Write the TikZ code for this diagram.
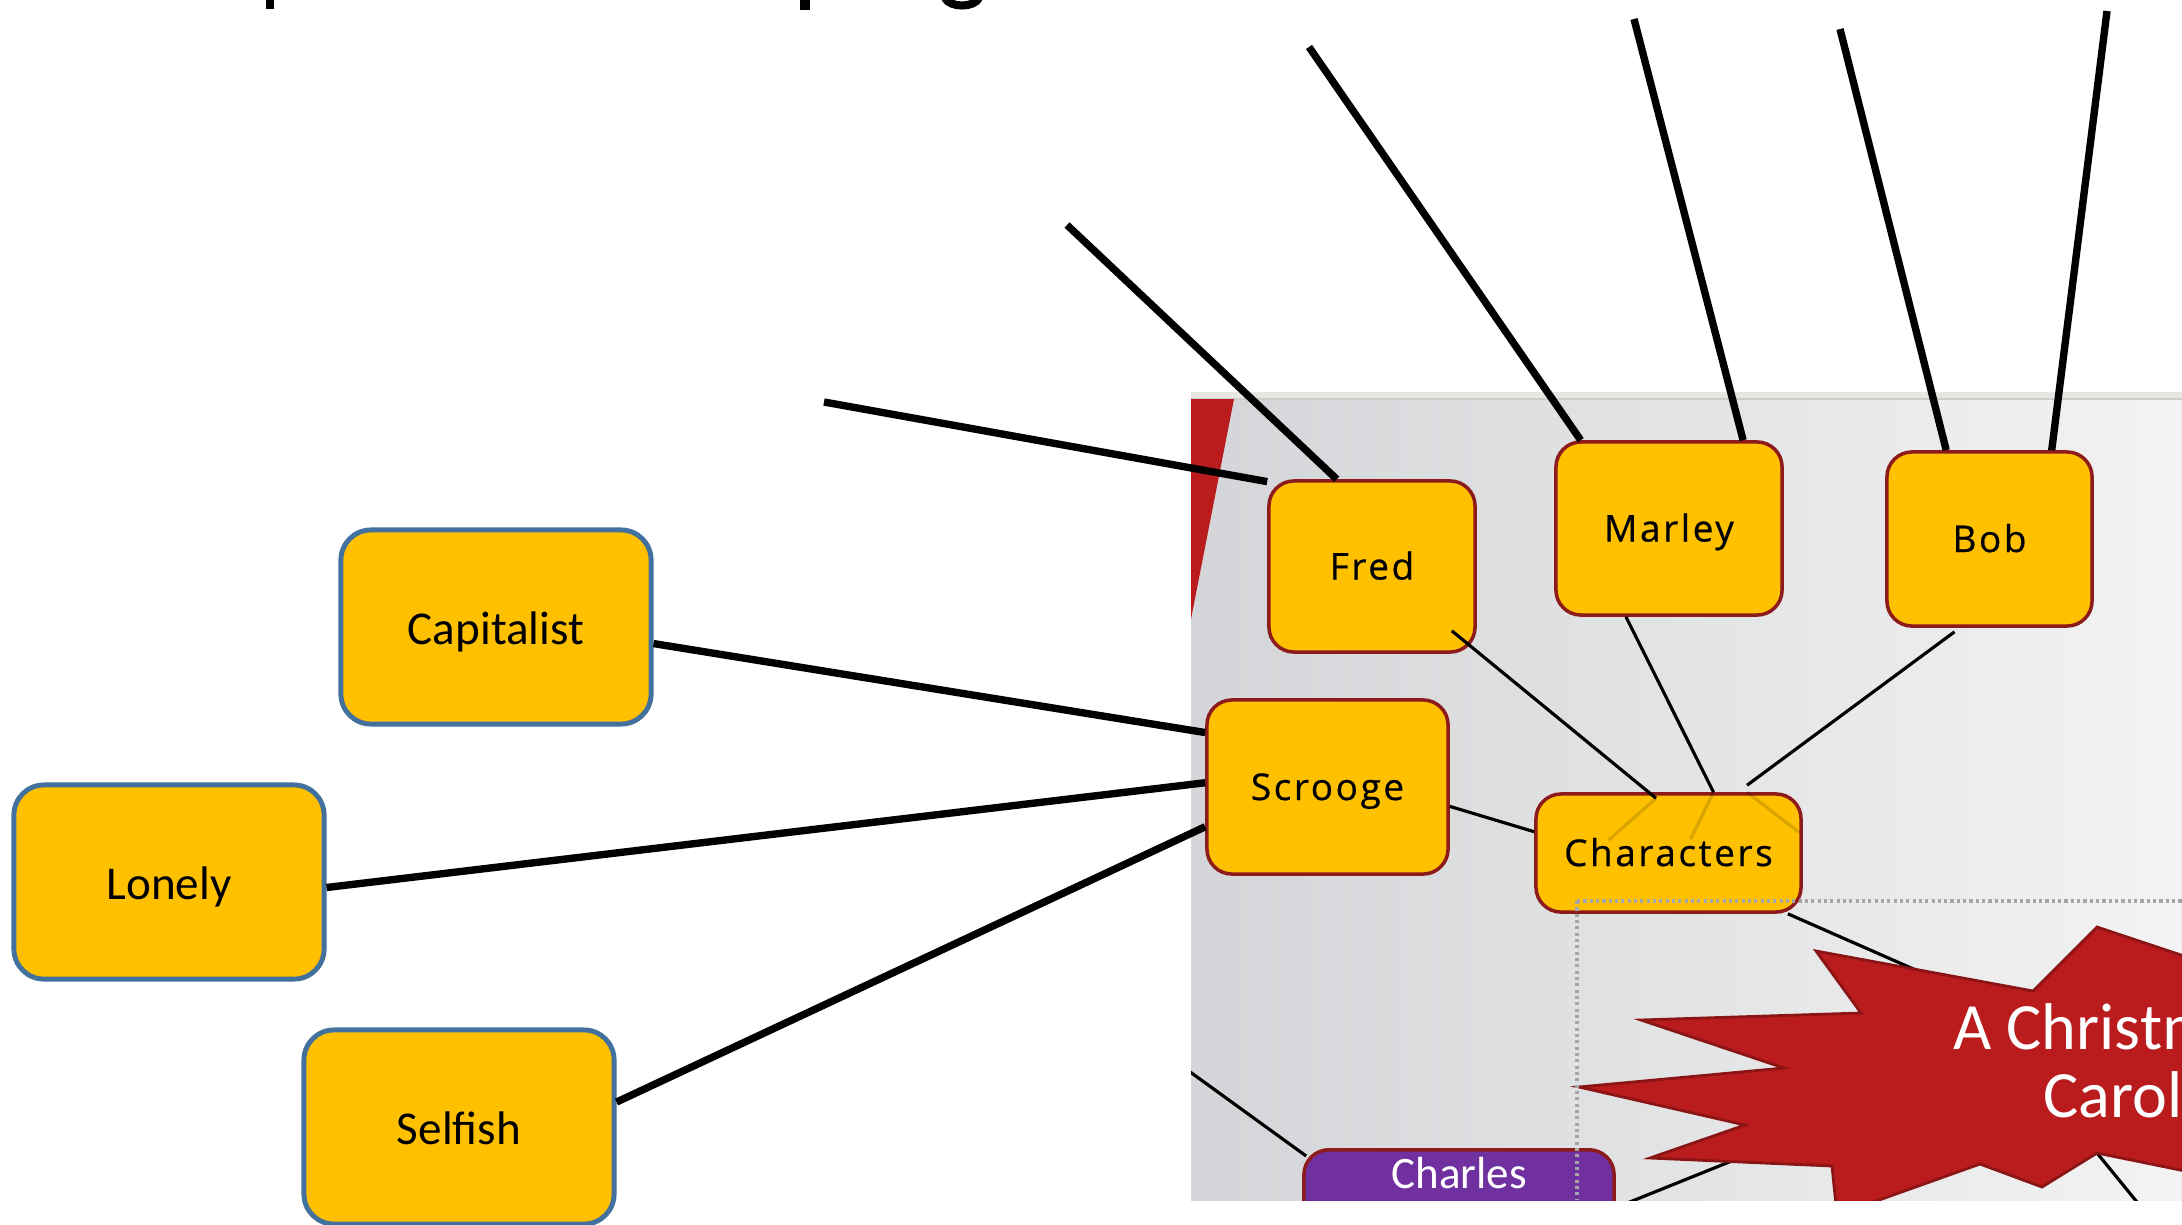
\documentclass[tikz,border=0pt]{standalone}
\usepackage{fontspec}
\setmainfont{Carlito}
\newfontfamily\mapfont[LetterSpace=7,FakeBold=0.6]{Open Sans}
\definecolor{boxfill}{HTML}{FFC000}
\definecolor{boxblue}{HTML}{41719C}
\definecolor{boxred}{HTML}{8E1B1B}
\definecolor{starred}{HTML}{BA1C1E}
\definecolor{stardark}{HTML}{8B1414}
\definecolor{charpurple}{HTML}{7030A0}
\definecolor{shotleft}{HTML}{D3D5D8}
\definecolor{shotright}{HTML}{F3F3F3}
\definecolor{stripgray}{HTML}{E7E6E3}
\definecolor{dotgray}{HTML}{A6A6A6}
\begin{document}
\begin{tikzpicture}[x=0.01cm,y=-0.01cm,
    trait/.style={draw=boxblue,line width=1.4pt,fill=boxfill,rounded corners=0.3cm,minimum width=3.1cm,minimum height=1.94cm,text height=10pt,text depth=0.3pt,font=\fontsize{13.4}{16}\selectfont},
    cast/.style={draw=boxred,line width=1pt,fill=boxfill,rounded corners=0.25cm,text height=7.6pt,text depth=0.2pt,font=\mapfont\fontsize{10.5}{12}\selectfont},
    link/.style={line width=2.1pt,black},
    thinlink/.style={line width=0.9pt,black},
    ghost/.style={line width=0.9pt,black,opacity=0.15},
    dotline/.style={draw=dotgray,line width=0.9pt,dash pattern=on 0.9pt off 0.9pt}]
    \useasboundingbox (0,0) rectangle (2182,1224);
    \fill[white] (0,0) rectangle (2182,1224);
    % the screenshot of the mind map
    \begin{scope}
    \clip (1191,392) rectangle (2182,1200);
    \shade[left color=shotleft,right color=shotright] (1191,392) rectangle (2182,1200);
    \fill[stripgray] (1191,392) rectangle (2182,399);
    \draw[gray!40,line width=0.5pt] (1191,399) -- (2182,399);
    \fill[starred] (1191,399) -- (1234,399) -- (1191,619) -- cycle;
    \node[cast,minimum width=2.06cm,minimum height=1.71cm] (fred) at (1372,566.5) {Fred};
    \node[cast,minimum width=2.26cm,minimum height=1.73cm] (mar) at (1669,528.5) {Marley};
    \node[cast,minimum width=2.05cm,minimum height=1.74cm] (bob) at (1989.5,539) {Bob};
    \node[cast,minimum width=2.41cm,minimum height=1.74cm] (scr) at (1327.5,787) {Scrooge};
    \node[cast,minimum width=2.65cm,minimum height=1.18cm] (chr) at (1668.5,853) {Characters};
    \draw[thinlink] ([xshift=-0.25cm,yshift=0.23cm]fred.south east) -- ([xshift=-0.125cm,yshift=-0.06cm]chr.north);
    \draw[thinlink] ([xshift=-0.43cm]mar.south) -- ([xshift=0.45cm]chr.north);
    \draw[thinlink] ([xshift=-0.35cm,yshift=-0.04cm]bob.south) -- ([xshift=0.785cm,yshift=0.07cm]chr.north);
    \draw[thinlink] (scr.-9) -- (chr.171);
    \draw[ghost] ([xshift=-0.125cm,yshift=-0.06cm]chr.north) -- ([xshift=-0.6cm,yshift=-0.48cm]chr.north);
    \draw[ghost] ([xshift=0.45cm]chr.north) -- ([xshift=0.22cm,yshift=-0.47cm]chr.north);
    \draw[ghost] ([xshift=0.785cm]chr.north) -- ([xshift=-0.04cm,yshift=-0.4cm]chr.north east);
    \coordinate (starA) at (1918,971);
    \coordinate (starB) at (1749,1154);
    \coordinate (exitB) at (1595,1216);
    \coordinate (starC) at (2097,1153);
    \coordinate (exitC) at (2150,1218);
    \coordinate (entryD) at (1175,1061);
    \draw[thinlink] (chr.-27) -- (starA);
    \draw[thinlink] (starB) -- (exitB);
    \draw[thinlink] (starC) -- (exitC);
    \filldraw[fill=starred,draw=stardark,line width=0.8pt] (2190,958) -- (2097,927) -- (2033,991) -- (1816,951) -- (1861,1013) -- (1641,1020) -- (1784,1068) -- (1579,1087) -- (1745,1125) -- (1650,1158) -- (1832,1166) -- (1837,1215) -- (1980,1164) -- (2042,1187) -- (2097,1153) -- (2190,1172) -- cycle;
    \node[text=white,align=center,font=\fontsize{18.8}{19.3}\selectfont] (carol) at (2113,1061) {A Christmas\\Carol};
    \node[draw=boxred,line width=1pt,fill=charpurple,rounded corners=0.25cm,text=white,anchor=north,inner ysep=2pt,text depth=1cm,minimum width=3.1cm,font=\fontsize{12.8}{15}\selectfont] (chs) at (1459,1148) {Charles};
    \draw[thinlink] (entryD) -- ([xshift=0.04cm,yshift=-0.08cm]chs.north west);
    \draw[dotline] (1577,901) -- (2182,901);
    \draw[dotline] (1577,901) -- (1577,1200);
    \end{scope}
    % the words round Scrooge
    \node[trait] (cap) at (496,627) {Capitalist};
    \node[trait] (lon) at (169,882) {Lonely};
    \node[trait] (sel) at (459,1127) {Selfish};
    \draw[link] (scr.156) -- (cap.-6);
    \draw[link] (scr.178) -- (lon.-2);
    \draw[link] (scr.198) -- (sel.9);
    % open ends still to be filled in
    \coordinate (fredA) at (824,402);
    \coordinate (fredB) at (1067,225);
    \coordinate (marA) at (1309,47);
    \coordinate (marB) at (1634,19);
    \coordinate (bobA) at (1840,29);
    \coordinate (bobB) at (2107,11);
    \draw[link] (fred.141) -- (fredA);
    \draw[link] (fred.112) -- (fredB);
    \draw[link] (mar.135) -- (marA);
    \draw[link] (mar.50) -- (marB);
    \draw[link] (bob.116) -- (bobA);
    \draw[link] (bob.55) -- (bobB);
    % bits of the title that is cut off above
    \fill[black] (266,0) rectangle (274,9);
    \fill[black] (800,0) rectangle (810,10);
    \draw[line width=2.3pt] (945,-2) .. controls (950,8) and (974,8) .. (979,-2);
\end{tikzpicture}
\end{document}
